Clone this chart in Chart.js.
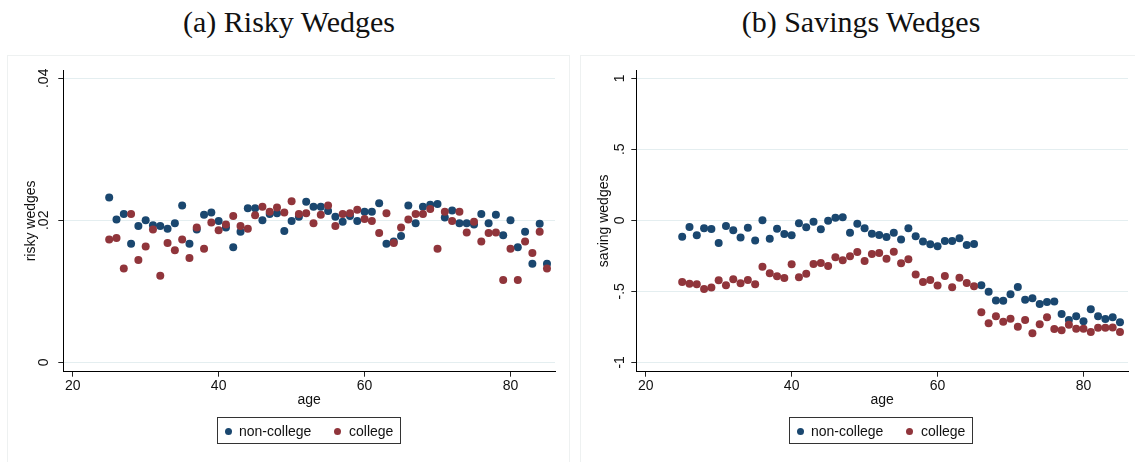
<!DOCTYPE html>
<html>
<head>
<meta charset="utf-8">
<script src="https://cdn.jsdelivr.net/npm/chart.js@4.4.1/dist/chart.umd.min.js"></script>
<style>
  body { margin: 0; background: #fff; width: 1135px; height: 462px; overflow: hidden; position: relative; font-family: "Liberation Sans", Arial, sans-serif; }
  .title { position: absolute; top: 7px; font-family: "Liberation Serif", "DejaVu Serif", serif; font-size: 30px; line-height: 1; color: #111; white-space: nowrap; transform: translateX(-50%); }
  .panel { position: absolute; top: 55px; height: 420px; border: 1px solid #eef1f1; box-sizing: border-box; }
  canvas { position: absolute; top: 55px; }
  .legend { position: absolute; top: 417px; height: 27px; width: 184px; border: 1px solid #333; box-sizing: border-box; font-size: 14px; color: #111; }
  .legend span { position: absolute; top: 5px; }
  .legend i { position: absolute; top: 10px; width: 7px; height: 7px; border-radius: 50%; }
</style>
</head>
<body>
<div class="title" style="left:289px">(a) Risky Wedges</div>
<div class="title" style="left:861px">(b) Savings Wedges</div>
<div class="panel" style="left:7px; width:563px"></div>
<div class="panel" style="left:580px; width:560px"></div>
<div id="wrapLeft"><canvas id="riskyChart" width="562" height="407" style="left:7px"></canvas></div>
<div id="wrapRight"><canvas id="savingChart" width="555" height="407" style="left:580px"></canvas></div>

<div class="legend" style="left:217px">
  <i style="left:7px; background:#1a476f"></i><span style="left:21px">non-college</span>
  <i style="left:116px; background:#90353b"></i><span style="left:131px">college</span>
</div>
<div class="legend" style="left:789px">
  <i style="left:7px; background:#1a476f"></i><span style="left:21px">non-college</span>
  <i style="left:116px; background:#90353b"></i><span style="left:131px">college</span>
</div>

<script>
const ages = [25, 26, 27, 28, 29, 30, 31, 32, 33, 34, 35, 36, 37, 38, 39, 40, 41, 42, 43, 44,
  45, 46, 47, 48, 49, 50, 51, 52, 53, 54, 55, 56, 57, 58, 59, 60, 61, 62, 63, 64,
  65, 66, 67, 68, 69, 70, 71, 72, 73, 74, 75, 76, 77, 78, 79, 80, 81, 82, 83, 84, 85];

// (a) risky wedges
const riskyNonCollege = [0.0232, 0.0201, 0.0209, 0.0167, 0.0192, 0.0200, 0.0193, 0.0192, 0.0188, 0.0196,
  0.0221, 0.0167, 0.0187, 0.0208, 0.0211, 0.0199, 0.0190, 0.0162, 0.0184, 0.0217,
  0.0217, 0.0200, 0.0209, 0.0210, 0.0185, 0.0199, 0.0205, 0.0226, 0.0219, 0.0219,
  0.0213, 0.0205, 0.0198, 0.0206, 0.0199, 0.0212, 0.0212, 0.0224, 0.0167, 0.0170,
  0.0178, 0.0221, 0.0196, 0.0219, 0.0222, 0.0223, 0.0204, 0.0214, 0.0196, 0.0196,
  0.0194, 0.0209, 0.0196, 0.0208, 0.0179, 0.0200, 0.0162, 0.0184, 0.0139, 0.0195, 0.0139];
const riskyCollege = [0.0173, 0.0175, 0.0132, 0.0209, 0.0144, 0.0163, 0.0187, 0.0122, 0.0168, 0.0158,
  0.0173, 0.0147, 0.0190, 0.0160, 0.0197, 0.0186, 0.0194, 0.0206, 0.0192, 0.0188,
  0.0207, 0.0219, 0.0212, 0.0218, 0.0211, 0.0227, 0.0209, 0.0210, 0.0196, 0.0208,
  0.0221, 0.0192, 0.0209, 0.0210, 0.0215, 0.0202, 0.0199, 0.0182, 0.0210, 0.0168,
  0.0190, 0.0201, 0.0209, 0.0209, 0.0216, 0.0160, 0.0212, 0.0199, 0.0212, 0.0183,
  0.0198, 0.0170, 0.0182, 0.0183, 0.0116, 0.0160, 0.0116, 0.0170, 0.0154, 0.0184, 0.0132];

// (b) savings wedges
const savingNonCollege = [-0.116, -0.047, -0.106, -0.056, -0.061, -0.160, -0.040, -0.070, -0.122, -0.052,
  -0.143, 0.000, -0.130, -0.059, -0.096, -0.106, -0.021, -0.049, -0.010, -0.063,
  -0.003, 0.018, 0.021, -0.087, -0.024, -0.056, -0.095, -0.103, -0.118, -0.087,
  -0.136, -0.056, -0.113, -0.150, -0.169, -0.183, -0.146, -0.146, -0.127, -0.174,
  -0.167, -0.458, -0.503, -0.564, -0.566, -0.521, -0.470, -0.559, -0.549, -0.589,
  -0.575, -0.571, -0.660, -0.702, -0.676, -0.711, -0.627, -0.676, -0.695, -0.683, -0.718];
const savingCollege = [-0.434, -0.446, -0.451, -0.484, -0.474, -0.423, -0.458, -0.416, -0.444, -0.420,
  -0.451, -0.327, -0.373, -0.394, -0.406, -0.310, -0.401, -0.376, -0.308, -0.301,
  -0.322, -0.261, -0.282, -0.254, -0.223, -0.286, -0.237, -0.231, -0.270, -0.221,
  -0.303, -0.275, -0.381, -0.434, -0.420, -0.460, -0.392, -0.472, -0.404, -0.441,
  -0.465, -0.648, -0.725, -0.676, -0.714, -0.693, -0.749, -0.702, -0.796, -0.732,
  -0.683, -0.765, -0.775, -0.735, -0.763, -0.763, -0.787, -0.756, -0.756, -0.754, -0.787];

const ageTicks = [20, 40, 60, 80];
const riskyTicks = [0, 0.02, 0.04];
const riskyTickLabels = ['0', '.02', '.04'];
const savingTicks = [-1, -0.5, 0, 0.5, 1];
const savingTickLabels = ['-1', '-.5', '0', '.5', '1'];

const navy = '#1a476f';
const maroon = '#90353b';

Chart.defaults.font.family = '"Liberation Sans", Arial, sans-serif';
Chart.defaults.font.size = 14;
Chart.defaults.color = '#111';

function points(values) {
  return ages.map(function (a, i) { return { x: a, y: values[i] }; });
}

function makeChart(id, nonCollege, college, yTitle, yMin, yMax, yTicks, yLabels, yPad, rightPad) {
  const ctx = document.getElementById(id).getContext('2d');
  return new Chart(ctx, {
    type: 'scatter',
    data: {
      datasets: [
        { label: 'college', data: points(college), backgroundColor: maroon, pointRadius: 4, borderWidth: 0, order: 0 },
        { label: 'non-college', data: points(nonCollege), backgroundColor: navy, pointRadius: 4, borderWidth: 0, order: 1 }
      ]
    },
    options: {
      responsive: false,
      animation: false,
      events: [],
      layout: { padding: { top: 15, right: rightPad, left: 0, bottom: 52.3 } },
      plugins: { legend: { display: false }, tooltip: { enabled: false } },
      scales: {
        x: {
          type: 'linear',
          min: 18.71, max: 86.1,
          afterBuildTicks: function (s) { s.ticks = ageTicks.map(function (v) { return { value: v }; }); },
          afterFit: function (s) { s.height = 38; },
          grid: { drawOnChartArea: false, tickLength: 5, tickColor: '#222' },
          border: { color: '#000', width: 1 },
          ticks: { padding: 1, maxRotation: 0 },
          title: { display: true, text: 'age', padding: { top: 0, bottom: 1 } }
        },
        y: {
          type: 'linear',
          min: yMin, max: yMax,
          afterBuildTicks: function (s) { s.ticks = yTicks.map(function (v) { return { value: v }; }); },
          afterFit: function (s) { s.width = 56.3; },
          grid: { color: '#e4eef0', tickLength: 5, tickColor: '#222' },
          border: { color: '#000', width: 1 },
          ticks: {
            minRotation: 90, maxRotation: 90, crossAlign: 'center', padding: yPad,
            callback: function (v) { return yLabels[yTicks.indexOf(v)]; }
          },
          title: { display: true, text: yTitle, padding: { top: 15.6, bottom: 0 } }
        }
      }
    }
  });
}

makeChart('riskyChart', riskyNonCollege, riskyCollege, 'risky wedges',
  -0.00132, 0.04117, riskyTicks, riskyTickLabels, 4.3, 14);
makeChart('savingChart', savingNonCollege, savingCollege, 'saving wedges',
  -1.066, 1.058, savingTicks, savingTickLabels, 2.8, 7);
</script>
</body>
</html>
